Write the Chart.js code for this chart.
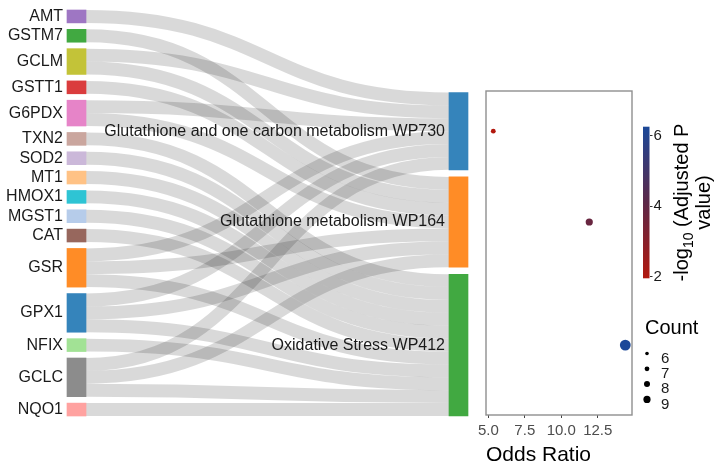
<!DOCTYPE html>
<html lang="en">
<head>
<meta charset="UTF-8">
<title>Antioxidant genes and enriched pathways</title>
<style>
  body { margin: 0; background: #fff; }
  #wrap { position: relative; width: 716px; height: 470px; }
  #wrap canvas { position: absolute; left: 0; top: 0; }
</style>
</head>
<body>
<div id="wrap">
  <canvas id="sankey" width="716" height="470"></canvas>
  <canvas id="dots" width="716" height="470"></canvas>
  <canvas id="colorbar" width="716" height="470"></canvas>
</div>
<script src="https://cdn.jsdelivr.net/npm/chart.js@4"></script>
<script>
// genes (left column), top to bottom
const genes = ['AMT', 'GSTM7', 'GCLM', 'GSTT1', 'G6PDX', 'TXN2', 'SOD2', 'MT1', 'HMOX1', 'MGST1', 'CAT', 'GSR', 'GPX1', 'NFIX', 'GCLC', 'NQO1'];
// pathways (right column)
const pathways = ['Glutathione and one carbon metabolism WP730', 'Glutathione metabolism WP164', 'Oxidative Stress WP412'];
// which genes flow into each pathway
const wp730Genes = ['AMT', 'GCLM', 'G6PDX', 'GSR', 'GPX1', 'GCLC'];
const wp164Genes = ['GSTM7', 'GCLM', 'GSTT1', 'G6PDX', 'GSR', 'GPX1', 'GCLC'];
const wp412Genes = ['TXN2', 'SOD2', 'MT1', 'HMOX1', 'MGST1', 'CAT', 'GSR', 'GPX1', 'NFIX', 'GCLC', 'NQO1'];
// dot plot values, same order as pathways
const oddsRatio = [5.34, 11.92, 14.39];
const negLog10P = [1.95, 3.8, 6.26];
const geneCount = [7, 9, 12];
// axis / legend ticks
const oddsTicks = [5, 7.5, 10, 12.5];
const pTicks = [2, 4, 6];
const countBreaks = [6, 7, 8, 9];

// colours
const geneColors = ['#9467bd', '#2ca02c', '#bcbd22', '#d62728', '#e377c2', '#c49c94', '#c5b0d5', '#ffbb78', '#17becf', '#aec7e8', '#8c564b', '#ff7f0e', '#1f77b4', '#98df8a', '#7f7f7f', '#ff9896'];
const pathwayColors = ['#1f77b4', '#ff7f0e', '#2ca02c'];
const LINK_COLOR = 'rgba(0,0,0,0.15)';
const FONT = "'Liberation Sans', Arial, Helvetica, sans-serif";

Chart.defaults.font.family = FONT;

const hexA = (hex, a) => {
  const n = parseInt(hex.slice(1), 16);
  return `rgba(${n >> 16},${(n >> 8) & 255},${n & 255},${a})`;
};

// ---- sankey layout in "link units" (one gene-pathway link = 1 unit)
const SRC_GAP = 0.5, TGT_GAP = 0.55;
const pathwayGenes = [wp730Genes, wp164Genes, wp412Genes];
const srcCount = genes.map(g => pathwayGenes.filter(l => l.includes(g)).length);
const srcY0 = [];
let acc = 0;
genes.forEach((g, i) => { srcY0.push(acc); acc += srcCount[i] + SRC_GAP; });
const TOTAL = acc - SRC_GAP;
const tgtCount = pathwayGenes.map(l => l.length);
const tgtY0 = [];
acc = TOTAL - (tgtCount.reduce((a, b) => a + b, 0) + TGT_GAP * (pathways.length - 1));
tgtCount.forEach(c => { tgtY0.push(acc); acc += c + TGT_GAP; });
const tgtMid = tgtCount.map((c, j) => tgtY0[j] + c / 2);

const links = [];
genes.forEach((g, i) => {
  let k = 0;
  pathwayGenes.forEach((list, j) => {
    if (!list.includes(g)) return;
    const order = genes.filter(x => list.includes(x)).indexOf(g);
    links.push({ sy: srcY0[i] + k, ty: tgtY0[j] + order });
    k++;
  });
});

// pixel frame of the sankey
const SANKEY_TOP = 10, SANKEY_BOTTOM = 416;
const SRC_X = 76.5, TGT_X = 458.5, NODE_W = 19;
const PPU = (SANKEY_BOTTOM - SANKEY_TOP) / TOTAL;

const sankeyPlugin = {
  id: 'sankeyLinks',
  beforeDatasetsDraw(chart) {
    const { ctx, scales: { x, y } } = chart;
    const xa = x.getPixelForValue(0) + NODE_W / 2;
    const xb = x.getPixelForValue(1) - NODE_W / 2;
    const xm = (xa + xb) / 2;
    const w = Math.abs(y.getPixelForValue(1) - y.getPixelForValue(0));
    ctx.save();
    ctx.lineWidth = w;
    ctx.strokeStyle = LINK_COLOR;
    links.forEach(l => {
      const ya = y.getPixelForValue(l.sy + 0.5);
      const yb = y.getPixelForValue(l.ty + 0.5);
      ctx.beginPath();
      ctx.moveTo(xa, ya);
      ctx.bezierCurveTo(xm, ya, xm, yb, xb, yb);
      ctx.stroke();
    });
    ctx.restore();
  },
  afterDatasetsDraw(chart) {
    const { ctx, scales: { x, y } } = chart;
    ctx.save();
    ctx.font = '16px ' + FONT;
    ctx.fillStyle = '#1a1a1a';
    ctx.textAlign = 'right';
    ctx.textBaseline = 'middle';
    genes.forEach((g, i) => {
      ctx.fillText(g, x.getPixelForValue(0) - NODE_W / 2 - 4, y.getPixelForValue(srcY0[i] + srcCount[i] / 2));
    });
    pathways.forEach((p, j) => {
      ctx.fillText(p, x.getPixelForValue(1) - NODE_W / 2 - 4, y.getPixelForValue(tgtMid[j]));
    });
    ctx.restore();
  }
};

new Chart(document.getElementById('sankey'), {
  type: 'bar',
  data: {
    datasets: [
      {
        data: genes.map((g, i) => ({ x: 0, y: [srcY0[i], srcY0[i] + srcCount[i]] })),
        backgroundColor: geneColors.map(c => hexA(c, 0.9)),
        barThickness: NODE_W, grouped: false, borderWidth: 0, clip: false
      },
      {
        data: pathways.map((p, j) => ({ x: 1, y: [tgtY0[j], tgtY0[j] + tgtCount[j]] })),
        backgroundColor: pathwayColors.map(c => hexA(c, 0.9)),
        barThickness: NODE_W, grouped: false, borderWidth: 0, clip: false
      }
    ]
  },
  options: {
    responsive: false, animation: false, events: [],
    layout: { padding: { left: SRC_X, right: 716 - TGT_X, top: SANKEY_TOP, bottom: 470 - SANKEY_BOTTOM } },
    plugins: { legend: { display: false }, tooltip: { enabled: false } },
    scales: {
      x: { type: 'linear', min: 0, max: 1, offset: false, display: false },
      y: { type: 'linear', min: 0, max: TOTAL, reverse: true, display: false }
    }
  },
  plugins: [sankeyPlugin]
});

// ---- colour and size scales of the dot plot
const pMin = Math.min(...negLog10P), pMax = Math.max(...negLog10P);
const LOW = [178, 24, 14], MID = [92, 40, 72], HIGH = [28, 72, 152];
function colorFor(v) {
  const t = Math.max(0, Math.min(1, (v - pMin) / (pMax - pMin)));
  const [a, b, u] = t < 0.5 ? [LOW, MID, t * 2] : [MID, HIGH, (t - 0.5) * 2];
  return `rgb(${a.map((c, i) => Math.round(c + (b[i] - c) * u)).join(',')})`;
}
const radiusFor = c => 1.8 + 0.6 * (c - 6);

const PANEL_LEFT = 486, PANEL_RIGHT = 632, PANEL_TOP = 91, PANEL_BOTTOM = 415;

const panelPlugin = {
  id: 'panelBox',
  afterDraw(chart) {
    const { ctx, chartArea: a } = chart;
    ctx.save();
    ctx.strokeStyle = '#8f8f8f';
    ctx.lineWidth = 1.4;
    ctx.strokeRect(a.left, a.top, a.right - a.left, a.bottom - a.top);
    // size legend
    ctx.fillStyle = '#000';
    ctx.font = '20px ' + FONT;
    ctx.textAlign = 'left';
    ctx.textBaseline = 'middle';
    ctx.fillText('Count', 645, 328);
    ctx.font = '15px ' + FONT;
    countBreaks.forEach((c, k) => {
      const cy = 353.5 + k * 15.3;
      ctx.beginPath();
      ctx.arc(647, cy, radiusFor(c), 0, Math.PI * 2);
      ctx.fill();
      ctx.fillStyle = '#1a1a1a';
      ctx.fillText(String(c), 661, cy + 5);
      ctx.fillStyle = '#000';
    });
    ctx.restore();
  }
};

new Chart(document.getElementById('dots'), {
  type: 'scatter',
  data: {
    datasets: [{
      data: pathways.map((p, j) => ({ x: oddsRatio[j], y: tgtMid[j] })),
      pointRadius: geneCount.map(radiusFor),
      backgroundColor: negLog10P.map(colorFor),
      borderWidth: 0
    }]
  },
  options: {
    responsive: false, animation: false, events: [],
    layout: { padding: { left: PANEL_LEFT, right: 716 - PANEL_RIGHT, top: PANEL_TOP, bottom: 0 } },
    plugins: { legend: { display: false }, tooltip: { enabled: false } },
    scales: {
      x: {
        type: 'linear', min: 4.84, max: 14.85,
        afterBuildTicks: s => { s.ticks = oddsTicks.map(v => ({ value: v })); },
        afterFit: s => { s.height = 470 - PANEL_BOTTOM; },
        ticks: { callback: v => v.toFixed(1), font: { size: 15 }, color: '#4d4d4d', padding: 4, maxRotation: 0, autoSkip: false },
        grid: { display: true, drawOnChartArea: false, tickLength: 3, color: '#444' },
        border: { display: false },
        title: { display: true, text: 'Odds Ratio', align: 'start', color: '#000', font: { size: 21 }, padding: { top: 0, bottom: 2 } }
      },
      y: {
        type: 'linear', reverse: true, display: false,
        min: (PANEL_TOP - SANKEY_TOP) / PPU, max: (PANEL_BOTTOM - SANKEY_TOP) / PPU
      }
    }
  },
  plugins: [panelPlugin]
});

// ---- colour bar
const CB_LEFT = 643, CB_RIGHT = 649.5, CB_TOP = 126.7, CB_BOTTOM = 278.3;
const colorbarPlugin = {
  id: 'colorbar',
  beforeDraw(chart) {
    const { ctx, chartArea: a, scales: { y } } = chart;
    const g = ctx.createLinearGradient(0, y.getPixelForValue(pMin), 0, y.getPixelForValue(pMax));
    for (let s = 0; s <= 20; s++) g.addColorStop(s / 20, colorFor(pMin + (pMax - pMin) * s / 20));
    ctx.save();
    ctx.fillStyle = g;
    ctx.fillRect(a.left, a.top, a.right - a.left, a.bottom - a.top);
    ctx.restore();
  },
  afterDraw(chart) {
    const { ctx, chartArea: a } = chart;
    const cy = (a.top + a.bottom) / 2;
    ctx.save();
    ctx.fillStyle = '#000';
    ctx.textBaseline = 'alphabetic';
    // line 1 with subscript
    ctx.translate(688, cy);
    ctx.rotate(-Math.PI / 2);
    const big = '20px ' + FONT, small = '14px ' + FONT;
    const parts = [['-log', big, 0], ['10', small, 5], [' (Adjusted P', big, 0]];
    let wTot = 0;
    parts.forEach(p => { ctx.font = p[1]; wTot += ctx.measureText(p[0]).width; });
    let px = -wTot / 2;
    ctx.textAlign = 'left';
    parts.forEach(p => { ctx.font = p[1]; ctx.fillText(p[0], px, p[2]); px += ctx.measureText(p[0]).width; });
    // line 2
    ctx.font = big;
    ctx.textAlign = 'center';
    ctx.fillText('value)', 0, 22);
    ctx.restore();
  }
};

new Chart(document.getElementById('colorbar'), {
  type: 'scatter',
  data: { datasets: [{ data: [] }] },
  options: {
    responsive: false, animation: false, events: [],
    layout: { padding: { left: CB_LEFT, right: 0, top: CB_TOP, bottom: 470 - CB_BOTTOM } },
    plugins: { legend: { display: false }, tooltip: { enabled: false } },
    scales: {
      x: { type: 'linear', display: false },
      y: {
        type: 'linear', position: 'right', min: pMin, max: pMax,
        afterBuildTicks: s => { s.ticks = pTicks.map(v => ({ value: v })); },
        afterFit: s => { s.width = 716 - CB_RIGHT; },
        ticks: { font: { size: 15 }, color: '#1a1a1a', padding: 1 },
        grid: { display: true, drawOnChartArea: false, tickLength: 3, color: '#333' },
        border: { display: false }
      }
    }
  },
  plugins: [colorbarPlugin]
});
</script>
</body>
</html>
